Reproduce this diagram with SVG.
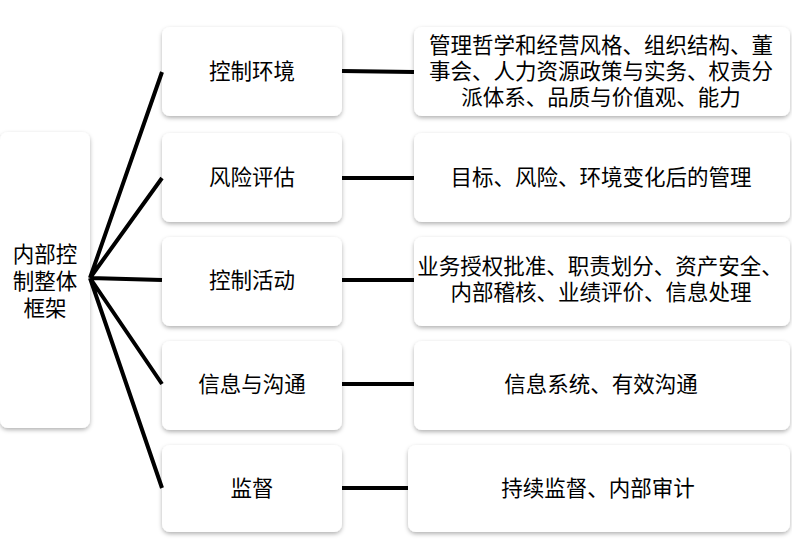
<svg xmlns="http://www.w3.org/2000/svg" width="792" height="557" viewBox="0 0 792 557">
<style>
.b{fill:#fff;filter:url(#sh)}
.t{font-family:"Noto Sans CJK SC","Liberation Sans",sans-serif;font-size:21.5px;fill:#000;text-anchor:middle}
.c{stroke:#000;stroke-width:4;fill:none}
</style>
<defs><filter id="sh" x="-10%" y="-10%" width="120%" height="130%"><feDropShadow dx="0" dy="2" stdDeviation="2" flood-color="#000" flood-opacity="0.3"/></filter></defs>
<rect width="792" height="557" fill="#fff"/>
<g id="root"><rect class="b" x="0" y="132" width="90" height="296" rx="8"/>
<text class="t" y="262"><tspan x="45">内部控</tspan><tspan x="45" dy="27">制整体</tspan><tspan x="45" dy="27">框架</tspan></text></g>
<g id="n1"><rect class="b" x="162" y="27" width="180" height="89" rx="8"/><text class="t" x="252" y="79">控制环境</text></g>
<g id="n2"><rect class="b" x="162" y="133" width="180" height="89" rx="8"/><text class="t" x="252" y="185">风险评估</text></g>
<g id="n3"><rect class="b" x="162" y="237" width="180" height="89" rx="8"/><text class="t" x="252" y="288">控制活动</text></g>
<g id="n4"><rect class="b" x="162" y="341" width="180" height="89" rx="8"/><text class="t" x="252" y="392">信息与沟通</text></g>
<g id="n5"><rect class="b" x="162" y="445" width="180" height="87" rx="8"/><text class="t" x="252" y="496">监督</text></g>
<g id="d1"><rect class="b" x="414" y="27" width="376" height="89" rx="8"/>
<text class="t" y="53"><tspan x="601">管理哲学和经营风格、组织结构、董</tspan><tspan x="601" dy="26">事会、人力资源政策与实务、权责分</tspan><tspan x="601" dy="26">派体系、品质与价值观、能力</tspan></text></g>
<g id="d2"><rect class="b" x="414" y="133" width="376" height="89" rx="8"/><text class="t" x="601" y="185">目标、风险、环境变化后的管理</text></g>
<g id="d3"><rect class="b" x="414" y="237" width="376" height="89" rx="8"/>
<text class="t" y="274"><tspan x="600">业务授权批准、职责划分、资产安全、</tspan><tspan x="601" dy="26">内部稽核、业绩评价、信息处理</tspan></text></g>
<g id="d4"><rect class="b" x="414" y="341" width="376" height="89" rx="8"/><text class="t" x="601" y="392">信息系统、有效沟通</text></g>
<g id="d5"><rect class="b" x="408" y="445" width="382" height="87" rx="8"/><text class="t" x="598" y="496">持续监督、内部审计</text></g>
<g id="connectors">
<path class="c" d="M90 278L162 72M90 278L162 178M90 278L162 280M90 278L162 384M90 278L162 488"/>
<path class="c" d="M342 71L414 72M342 178H414M342 280H414M342 384H414M342 488H408"/>
</g>
</svg>
